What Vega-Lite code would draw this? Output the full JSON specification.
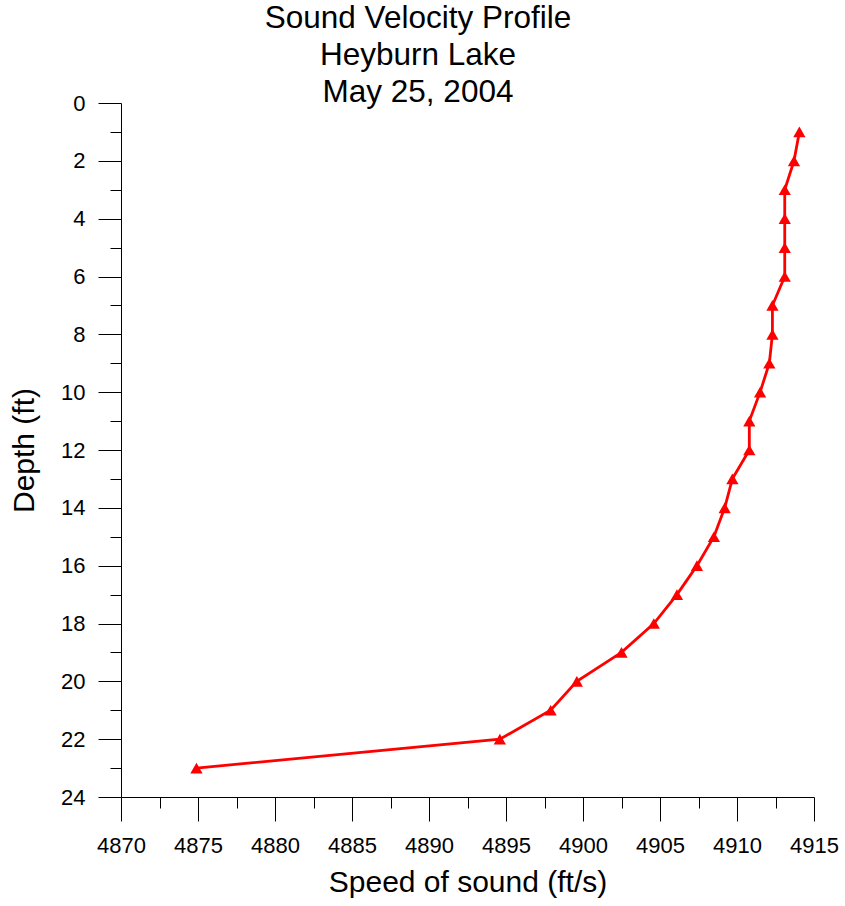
{
  "$schema": "https://vega.github.io/schema/vega-lite/v6.json",
  "autosize": {"type": "none"},
  "width": 693,
  "height": 694,
  "padding": {"left": 121, "top": 103, "right": 31, "bottom": 109},
  "background": "white",
  "title": {
    "text": ["Sound Velocity Profile", "Heyburn Lake", "May 25, 2004"],
    "anchor": "middle",
    "frame": "group",
    "dx": -49.5,
    "offset": -17,
    "font": "Liberation Sans",
    "fontSize": 31.5,
    "fontWeight": "normal",
    "color": "black",
    "lineHeight": 37.2
  },
  "config": {
    "view": {"stroke": null},
    "axis": {
      "grid": false,
      "domainColor": "black",
      "tickColor": "black",
      "labelColor": "black",
      "titleColor": "black",
      "labelFont": "Liberation Sans",
      "titleFont": "Liberation Sans",
      "labelFontSize": 22,
      "titleFontSize": 30,
      "titleFontWeight": "normal",
      "labelOverlap": false,
      "labelFlush": false,
      "labelBound": false
    }
  },
  "data": {
    "values": [
      {"depth": 1, "speed": 4914.05},
      {"depth": 2, "speed": 4913.7},
      {"depth": 3, "speed": 4913.1},
      {"depth": 4, "speed": 4913.1},
      {"depth": 5, "speed": 4913.1},
      {"depth": 6, "speed": 4913.1},
      {"depth": 7, "speed": 4912.3},
      {"depth": 8, "speed": 4912.3},
      {"depth": 9, "speed": 4912.1},
      {"depth": 10, "speed": 4911.5},
      {"depth": 11, "speed": 4910.8},
      {"depth": 12, "speed": 4910.8},
      {"depth": 13, "speed": 4909.7},
      {"depth": 14, "speed": 4909.2},
      {"depth": 15, "speed": 4908.5},
      {"depth": 16, "speed": 4907.4},
      {"depth": 17, "speed": 4906.1},
      {"depth": 18, "speed": 4904.6},
      {"depth": 19, "speed": 4902.5},
      {"depth": 20, "speed": 4899.6},
      {"depth": 21, "speed": 4897.9},
      {"depth": 22, "speed": 4894.6},
      {"depth": 23, "speed": 4874.9}
    ]
  },
  "encoding": {
    "x": {
      "field": "speed",
      "type": "quantitative",
      "scale": {"domain": [4870, 4915], "nice": false, "zero": false},
      "axis": {
        "title": "Speed of sound (ft/s)",
        "values": [4870, 4872.5, 4875, 4877.5, 4880, 4882.5, 4885, 4887.5, 4890, 4892.5, 4895, 4897.5, 4900, 4902.5, 4905, 4907.5, 4910, 4912.5, 4915],
        "tickSize": {"condition": {"test": "datum.value % 5 == 0", "value": 24}, "value": 11},
        "labelExpr": "datum.value % 5 == 0 ? format(datum.value, 'd') : ''",
        "labelPadding": 14.5,
        "titlePadding": 11
      }
    },
    "y": {
      "field": "depth",
      "type": "quantitative",
      "scale": {"domain": [0, 24], "reverse": true, "nice": false, "zero": false},
      "axis": {
        "title": "Depth (ft)",
        "values": [0, 1, 2, 3, 4, 5, 6, 7, 8, 9, 10, 11, 12, 13, 14, 15, 16, 17, 18, 19, 20, 21, 22, 23, 24],
        "tickSize": {"condition": {"test": "datum.value % 2 == 0", "value": 23}, "value": 11},
        "labelExpr": "datum.value % 2 == 0 ? format(datum.value, 'd') : ''",
        "labelPadding": 13,
        "titlePadding": 21
      }
    }
  },
  "layer": [
    {
      "mark": {"type": "line", "color": "#FF0000", "strokeWidth": 2.8},
      "encoding": {"order": {"field": "depth", "type": "quantitative"}}
    },
    {
      "mark": {"type": "point", "shape": "triangle-up", "filled": true, "color": "#FF0000", "opacity": 1, "size": 150}
    }
  ]
}
